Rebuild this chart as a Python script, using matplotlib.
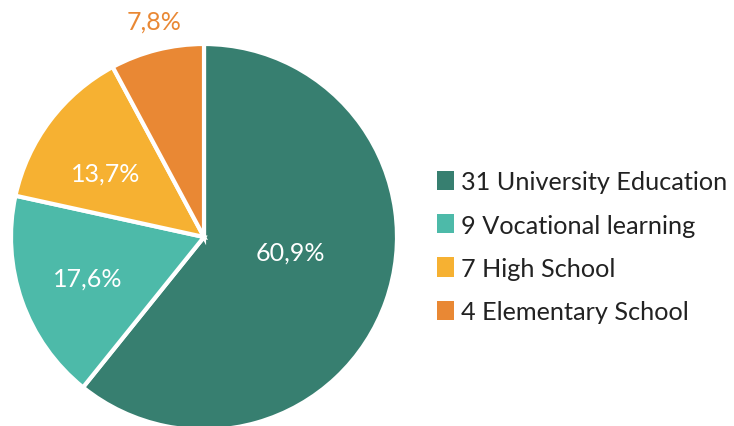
import matplotlib.pyplot as plt
from matplotlib.patches import Patch

categories = ["University Education", "Vocational learning", "High School", "Elementary School"]
counts = [31, 9, 7, 4]
pct_labels = ["60,9%", "17,6%", "13,7%", "7,8%"]
colors = ["#377f70", "#4dbaa9", "#f6b132", "#e98834"]

plt.rcParams['font.family'] = ['Lato', 'DejaVu Sans']

fig = plt.figure(figsize=(7.34, 4.27), dpi=100)
# pie axes sized so radius 1 maps to ~193 px
ax = fig.add_axes([11 / 734, (427 - 238 - 193) / 427, 386 / 734, 386 / 427])
wedges, texts, autotexts = ax.pie(
    counts, colors=colors, startangle=90, counterclock=False,
    autopct="%1.1f%%", pctdistance=0.64,
    wedgeprops=dict(edgecolor="white", linewidth=3),
)
ax.set_xlim(-1, 1)
ax.set_ylim(-1, 1)
ax.set_aspect("equal")

for t, lab in zip(autotexts, pct_labels):
    t.set_text(lab)
    t.set_color("white")
    t.set_fontsize(18)

# labels nudged to where the original puts them
autotexts[0].set_position((0.45, -0.08))
autotexts[2].set_position((-0.51, 0.33))
autotexts[3].set_position((-0.26, 1.12))
autotexts[3].set_color(colors[3])

handles = [Patch(facecolor=c, edgecolor="none") for c in colors]
labels = [f"{n} {c}" for n, c in zip(counts, categories)]
fig.legend(handles, labels, loc="center left", bbox_to_anchor=(0.565, 0.42),
           frameon=False, fontsize=18.2, handlelength=0.65, handleheight=0.8,
           handletextpad=0.3, labelspacing=0.8, labelcolor="#222222")

fig.savefig("out.png", dpi=100)
